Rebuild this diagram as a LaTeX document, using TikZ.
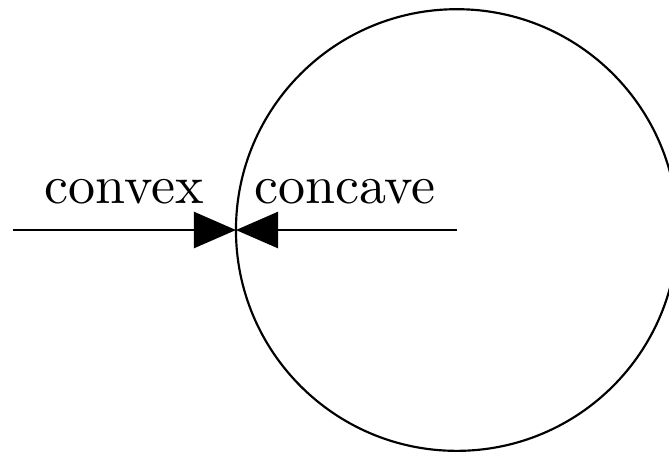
\documentclass[tikz,border=0pt]{standalone}
\usepackage{tikz}
\usetikzlibrary{arrows.meta, positioning}

\begin{document}
\begin{tikzpicture}[
    disk/.style={draw, circle, line width=0.4pt, inner sep=0pt, outer sep=0pt,
      minimum size=81.8pt},
    arrow/.style={-{Triangle[length=7.8pt, width=6.7pt]}, line width=0.4pt},
    lbl/.style={anchor=base, inner sep=0pt},
  ]
    \useasboundingbox (0pt, 0pt) rectangle (123.9pt, 83.9pt);
    \node[disk] (circ) at (84.6pt, 41.3pt) {};
    \coordinate (outside) at (2.4pt, 41.3pt);
    \draw[arrow] (outside) -- (circ.west);
    \draw[arrow] (circ.center) -- (circ.west);
    \node[lbl] (convex) at (23pt, 46.3pt) {convex};
    \node[lbl] (concave) at (63.9pt, 46.3pt) {concave};
  \end{tikzpicture}
\end{document}
